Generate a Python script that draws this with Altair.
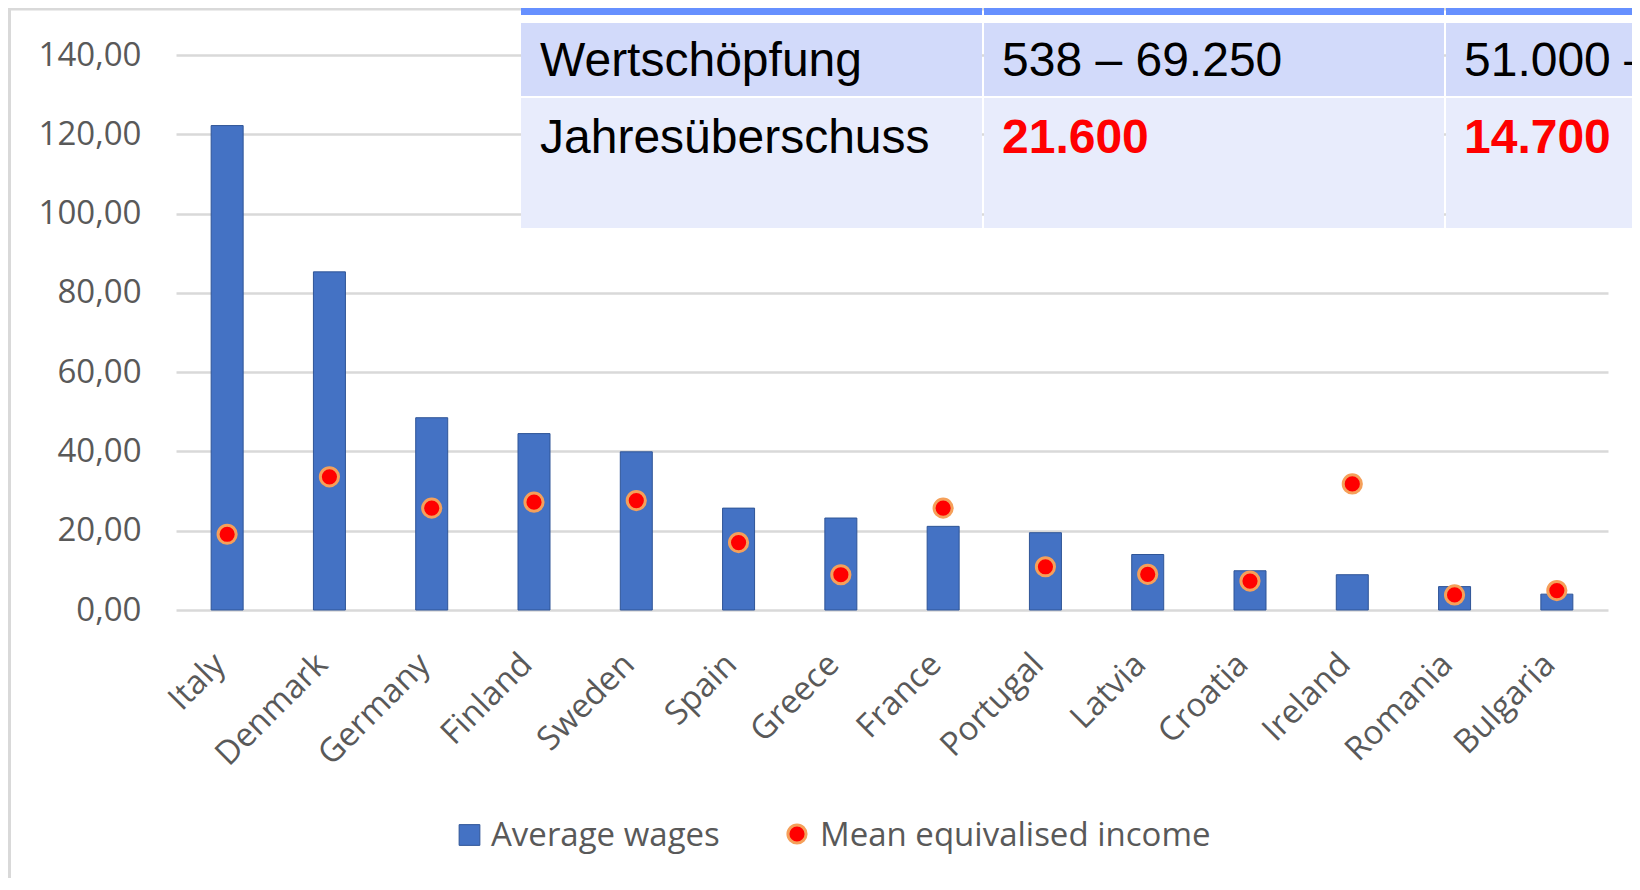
import altair as alt
import pandas as pd

# ---------------- data ----------------
countries = ["Italy", "Denmark", "Germany", "Finland", "Sweden", "Spain", "Greece",
             "France", "Portugal", "Latvia", "Croatia", "Ireland", "Romania", "Bulgaria"]
average_wages = [122.2, 85.3, 48.5, 44.5, 39.9, 25.7, 23.2, 21.1, 19.5, 14.0, 9.9, 8.9, 5.9, 4.0]
mean_income = [19.1, 33.6, 25.7, 27.2, 27.6, 17.0, 8.9, 25.7, 10.9, 9.0, 7.3, 31.8, 3.8, 4.9]
y_ticks = [0, 20, 40, 60, 80, 100, 120, 140]
series_names = ["Average wages", "Mean equivalised income"]

table_row_labels = ["Wertschöpfung", "Jahresüberschuss"]
table_col1 = ["538 – 69.250", "21.600"]
table_col2 = ["51.000 –", "14.700"]

df = pd.DataFrame({"country": countries, "wages": average_wages, "income": mean_income})

# ---------------- styling ----------------
BAR = "#4472C4"
BAR_EDGE = "#2F5597"
DOT = "#FF0000"
DOT_EDGE = "#F5A05A"
GRID = "#D9D9D9"
TXT = "#595959"
FONT = "Open Sans"
TFONT = "Liberation Sans"
W, H = 1432, 555

one = pd.DataFrame({"k": [0]})

x_enc = alt.X("country:N", sort=countries,
              scale=alt.Scale(paddingInner=0.69, paddingOuter=0.345),
              axis=alt.Axis(title=None, labelAngle=315, labelAlign="right",
                            labelBaseline="alphabetic",
                            labelPadding=56, ticks=False, tickSize=0, domain=False,
                            labelFont=FONT, labelFontSize=33, labelColor=TXT, grid=False))
y_enc = alt.Y("wages:Q", scale=alt.Scale(domain=[0, 140], nice=False),
              axis=alt.Axis(title=None, values=y_ticks, ticks=False, tickSize=0, domain=False,
                            labelPadding=35, labelFont=FONT, labelFontSize=33, labelColor=TXT,
                            gridColor=GRID, gridWidth=2.5,
                            labelExpr="replace(format(datum.value, '.2f'), '.', ',')"))

bars = alt.Chart(df).mark_bar(size=32, color=BAR, stroke=BAR_EDGE, strokeWidth=1).encode(
    x=x_enc, y=y_enc)

dots = alt.Chart(df).mark_circle(size=330, color=DOT, opacity=1, stroke=DOT_EDGE,
                                 strokeWidth=3).encode(
    x=alt.X("country:N", sort=countries),
    y=alt.Y("income:Q"))

# outer frame
frame = alt.Chart(one).mark_rect(fillOpacity=0, stroke=GRID, strokeWidth=3).encode(
    x=alt.value(-166.5), x2=alt.value(1600), y=alt.value(-46), y2=alt.value(900))


def rect(x1, x2, y1, y2, color):
    return alt.Chart(one).mark_rect(color=color, opacity=1).encode(
        x=alt.value(x1), x2=alt.value(x2), y=alt.value(y1), y2=alt.value(y2))


HEAD = "#6690FF"
ROW1 = "#D2DAFA"
ROW2 = "#E8ECFC"
cols = [(345, 806), (808, 1268), (1270, 1480)]
table = []
for (a, b) in cols:
    table.append(rect(a, b, -60, -40, HEAD))
    table.append(rect(a, b, -32, 41, ROW1))
    table.append(rect(a, b, 43, 173, ROW2))


def txt(s, x, y, color="black", weight="normal", font=TFONT, size=48):
    d = pd.DataFrame({"t": [s]})
    return alt.Chart(d).mark_text(align="left", baseline="alphabetic", font=font,
                                  fontSize=size, color=color, fontWeight=weight).encode(
        x=alt.value(x), y=alt.value(y), text="t:N")


texts = [
    txt(table_row_labels[0], 364, 21),
    txt(table_row_labels[1], 364, 98),
    txt(table_col1[0], 826, 21),
    txt(table_col1[1], 826, 98, color=DOT, weight="bold"),
    txt(table_col2[0], 1288, 21),
    txt(table_col2[1], 1288, 98, color=DOT, weight="bold"),
]

# legend
leg_sq = alt.Chart(one).mark_square(size=430, color=BAR, opacity=1, stroke=BAR_EDGE,
                                     strokeWidth=1).encode(x=alt.value(293.5), y=alt.value(780))
leg_dot = alt.Chart(one).mark_circle(size=330, color=DOT, opacity=1, stroke=DOT_EDGE,
                                      strokeWidth=3).encode(x=alt.value(621), y=alt.value(779))
leg_t1 = txt(series_names[0], 315, 791, color=TXT, font=FONT, size=33)
leg_t2 = txt(series_names[1], 644, 791, color=TXT, font=FONT, size=33)

chart = alt.layer(frame, bars, dots, *table, *texts, leg_sq, leg_dot, leg_t1, leg_t2).properties(
    width=W, height=H,
    autosize=alt.AutoSizeParams(type="none"),
    padding={"left": 168, "top": 47, "right": 24, "bottom": 268},
    background="white",
).configure_view(stroke=None)

chart.save("out.html", embed_options={"renderer": "svg", "actions": False})
